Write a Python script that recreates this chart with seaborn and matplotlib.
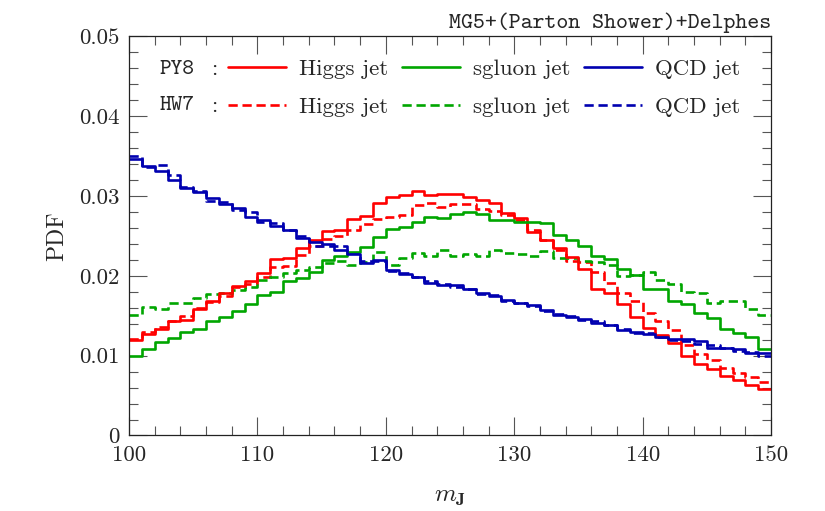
import numpy as np
import pandas as pd
import matplotlib
matplotlib.use("Agg")
import matplotlib.pyplot as plt
import seaborn as sns
from matplotlib.lines import Line2D
from matplotlib.ticker import MultipleLocator, FuncFormatter

# bin edges of m_J (GeV)
edges = list(range(100, 151))

py8_higgs = [0.0120, 0.0127, 0.0133, 0.0144, 0.0145, 0.0158, 0.0168, 0.0179, 0.0187, 0.0193,
             0.0203, 0.0221, 0.0222, 0.0235, 0.0245, 0.0256, 0.0257, 0.0271, 0.0275, 0.0291,
             0.0299, 0.0301, 0.0306, 0.0301, 0.0303, 0.0303, 0.0299, 0.0295, 0.0291, 0.0279,
             0.0272, 0.0255, 0.0245, 0.0235, 0.0224, 0.0209, 0.0184, 0.0179, 0.0165, 0.0149,
             0.0135, 0.0126, 0.0116, 0.0100, 0.0090, 0.0083, 0.0075, 0.0069, 0.0063, 0.0058]
hw7_higgs = [0.0121, 0.0130, 0.0136, 0.0144, 0.0150, 0.0160, 0.0167, 0.0175, 0.0186, 0.0190,
             0.0198, 0.0211, 0.0212, 0.0226, 0.0238, 0.0246, 0.0250, 0.0257, 0.0265, 0.0271,
             0.0274, 0.0276, 0.0289, 0.0291, 0.0286, 0.0290, 0.0290, 0.0284, 0.0281, 0.0276,
             0.0270, 0.0258, 0.0245, 0.0233, 0.0219, 0.0218, 0.0205, 0.0191, 0.0179, 0.0168,
             0.0153, 0.0143, 0.0132, 0.0114, 0.0102, 0.0095, 0.0084, 0.0078, 0.0073, 0.0067]
py8_sgluon = [0.0099, 0.0108, 0.0117, 0.0122, 0.0130, 0.0134, 0.0144, 0.0148, 0.0156, 0.0165,
              0.0176, 0.0180, 0.0194, 0.0197, 0.0205, 0.0220, 0.0225, 0.0230, 0.0236, 0.0249,
              0.0259, 0.0261, 0.0268, 0.0274, 0.0272, 0.0278, 0.0280, 0.0278, 0.0270, 0.0270,
              0.0268, 0.0268, 0.0266, 0.0251, 0.0245, 0.0237, 0.0225, 0.0221, 0.0209, 0.0201,
              0.0183, 0.0183, 0.0168, 0.0165, 0.0154, 0.0147, 0.0133, 0.0129, 0.0123, 0.0108]
hw7_sgluon = [0.0151, 0.0161, 0.0159, 0.0166, 0.0166, 0.0172, 0.0177, 0.0178, 0.0182, 0.0186,
              0.0195, 0.0199, 0.0204, 0.0207, 0.0211, 0.0216, 0.0219, 0.0214, 0.0218, 0.0230,
              0.0214, 0.0222, 0.0229, 0.0225, 0.0232, 0.0225, 0.0228, 0.0225, 0.0232, 0.0229,
              0.0228, 0.0225, 0.0231, 0.0223, 0.0222, 0.0219, 0.0217, 0.0214, 0.0200, 0.0201,
              0.0205, 0.0195, 0.0190, 0.0180, 0.0179, 0.0166, 0.0168, 0.0169, 0.0158, 0.0151]
py8_qcd = [0.0346, 0.0338, 0.0331, 0.0320, 0.0310, 0.0305, 0.0297, 0.0290, 0.0285, 0.0274,
           0.0270, 0.0263, 0.0257, 0.0248, 0.0242, 0.0240, 0.0233, 0.0228, 0.0216, 0.0220,
           0.0207, 0.0202, 0.0199, 0.0191, 0.0189, 0.0189, 0.0184, 0.0178, 0.0175, 0.0170,
           0.0166, 0.0164, 0.0157, 0.0151, 0.0149, 0.0146, 0.0141, 0.0138, 0.0132, 0.0130,
           0.0127, 0.0124, 0.0121, 0.0121, 0.0119, 0.0110, 0.0109, 0.0108, 0.0103, 0.0103]
hw7_qcd = [0.0350, 0.0337, 0.0339, 0.0327, 0.0311, 0.0306, 0.0294, 0.0292, 0.0283, 0.0280,
           0.0268, 0.0266, 0.0257, 0.0250, 0.0238, 0.0237, 0.0238, 0.0229, 0.0219, 0.0219,
           0.0206, 0.0203, 0.0198, 0.0193, 0.0190, 0.0186, 0.0183, 0.0177, 0.0176, 0.0168,
           0.0166, 0.0162, 0.0156, 0.0152, 0.0150, 0.0145, 0.0143, 0.0138, 0.0133, 0.0128,
           0.0128, 0.0124, 0.0120, 0.0119, 0.0115, 0.0113, 0.0109, 0.0106, 0.0105, 0.0100]

samples = ["Higgs jet", "sgluon jet", "QCD jet"]
showers = ["PY8", "HW7"]
x_ticks = [100, 110, 120, 130, 140, 150]
y_ticks = [0, 0.01, 0.02, 0.03, 0.04, 0.05]

colors = {"Higgs jet": "#ff0000", "sgluon jet": "#00a600", "QCD jet": "#0000b0"}
series = {("PY8", "Higgs jet"): py8_higgs, ("HW7", "Higgs jet"): hw7_higgs,
          ("PY8", "sgluon jet"): py8_sgluon, ("HW7", "sgluon jet"): hw7_sgluon,
          ("PY8", "QCD jet"): py8_qcd, ("HW7", "QCD jet"): hw7_qcd}

centers = np.array(edges[:-1]) + 0.5
rows = []
for (sh, sa), vals in series.items():
    for c, v in zip(centers, vals):
        rows.append({"m": c, "pdf": v, "shower": sh, "sample": sa})
df = pd.DataFrame(rows)

sns.set_theme(style="ticks")
plt.rcParams.update({
    "font.family": ["cmr10", "DejaVu Serif"],
    "mathtext.fontset": "cm",
    "axes.formatter.use_mathtext": True,
    "axes.unicode_minus": False,
})

fig = plt.figure(figsize=(8.25, 5.11), dpi=100)
ax = fig.add_axes([0.1564, 0.1478, 0.7782, 0.7808])

lw = 1.9
dash = (3.5, 1.8)
for sh in ["HW7", "PY8"]:
    for sa in samples:
        d = df[(df["shower"] == sh) & (df["sample"] == sa)]
        kw = dict(linestyle="-") if sh == "PY8" else dict(dashes=dash)
        sns.histplot(data=d, x="m", weights="pdf", bins=edges, element="step",
                     fill=False, color=colors[sa], linewidth=lw, ax=ax, **kw)

ax.set_xlim(100, 150)
ax.set_ylim(0, 0.05)
ax.set_xticks(x_ticks)
ax.set_yticks(y_ticks)
ax.xaxis.set_minor_locator(MultipleLocator(2))
ax.yaxis.set_minor_locator(MultipleLocator(0.002))
ax.yaxis.set_major_formatter(FuncFormatter(lambda v, p: "0" if abs(v) < 1e-9 else f"{v:.2f}"))
ax.xaxis.set_major_formatter(FuncFormatter(lambda v, p: f"{v:.0f}"))
ax.tick_params(which="both", direction="in", top=True, right=True, color="#555555",
               width=0.8, labelsize=16.5, pad=7)
ax.tick_params(which="major", length=13)
ax.tick_params(which="minor", length=6.5)
for s in ax.spines.values():
    s.set_linewidth(0.9)
    s.set_color("#222222")

ax.set_xlabel(r"$m_{\mathbf{J}}$", fontsize=18, labelpad=15)
ax.set_ylabel("PDF", fontsize=17, labelpad=8)
ax.set_title("MG5+(Parton Shower)+Delphes", loc="right", fontsize=16.4,
             family=["cmtt10", "DejaVu Sans Mono"], pad=6)

# legend
handles, labels = [], []
for sa in samples:
    for sh in showers:
        if sh == "PY8":
            h = Line2D([], [], color=colors[sa], linewidth=lw)
        else:
            h = Line2D([], [], color=colors[sa], linewidth=lw, dashes=dash)
        handles.append(h)
        labels.append(sa)
leg = ax.legend(handles, labels, ncol=3, loc="upper left", bbox_to_anchor=(0.154, 0.9445),
                frameon=False, fontsize=16.5, handlelength=2.55, handletextpad=0.57,
                columnspacing=0.58, labelspacing=0.8, borderpad=0, borderaxespad=0)

for txt, yy in zip(showers, [0.9185, 0.826]):
    ax.text(0.048, yy, txt, transform=ax.transAxes, fontsize=16,
            family=["cmtt10", "DejaVu Sans Mono"], va="center", ha="left")
    ax.text(0.128, yy, ":", transform=ax.transAxes, fontsize=16.5, va="center", ha="left")

fig.savefig("out.png", dpi=100)
